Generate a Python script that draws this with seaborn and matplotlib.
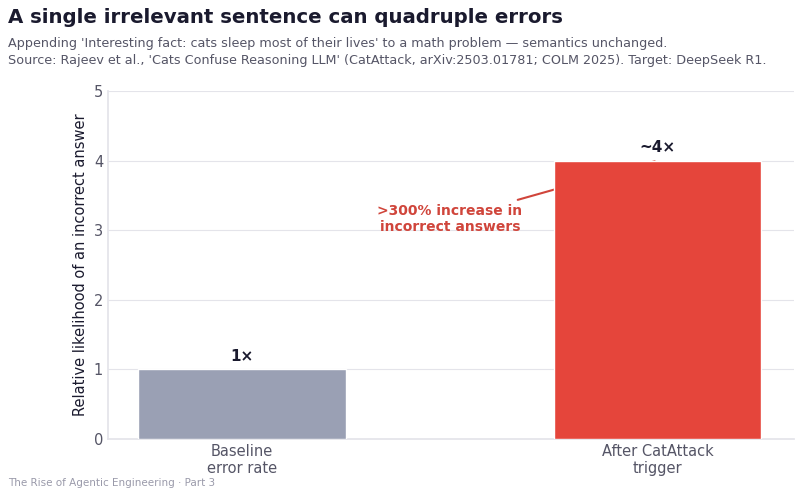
import matplotlib
matplotlib.use("Agg")
import matplotlib.pyplot as plt
import seaborn as sns
import pandas as pd

sns.set_theme(style="whitegrid")
plt.rcParams['font.family'] = ['DejaVu Sans']

categories = ["Baseline\nerror rate", "After CatAttack\ntrigger"]
values = [1, 4]
value_labels = ["1×", "~4×"]
bar_colors = ["#9aa0b4", "#e5453b"]

df = pd.DataFrame({"cat": categories, "val": values})

fig, ax = plt.subplots(figsize=(8, 4.97), dpi=100)
fig.subplots_adjust(left=0.135, right=0.992, top=0.817, bottom=0.117)

sns.barplot(data=df, x="cat", y="val", hue="cat", palette=bar_colors,
            width=0.5, legend=False, ax=ax, zorder=3, saturation=1)

for i, (v, lab) in enumerate(zip(values, value_labels)):
    ax.text(i, v + 0.08, lab, ha="center", va="bottom", fontsize=11,
            fontweight="bold", color="#1a1a2e", zorder=5)

ax.annotate(">300% increase in\nincorrect answers", xy=(1, values[1]),
            xytext=(0.5, 3.16), ha="center", va="center", fontsize=10,
            fontweight="bold", color="#d0453b", zorder=2,
            arrowprops=dict(arrowstyle="-", color="#d0453b", lw=1.5))

ax.set_xlim(-0.323, 1.328)
ax.set_ylim(0, 5)
ax.set_xlabel("")
ax.set_ylabel("Relative likelihood of an incorrect answer", fontsize=10.5, color="#1a1a2e")
ax.tick_params(axis="both", labelsize=10.5, colors="#555566", length=0)
ax.grid(axis="x", visible=False)
ax.grid(axis="y", color="#e4e4ea", lw=0.8)
for s in ["top", "right"]:
    ax.spines[s].set_visible(False)
for s in ["left", "bottom"]:
    ax.spines[s].set_color("#e4e4ea")

fig.text(0.01, 0.965, "A single irrelevant sentence can quadruple errors",
         fontsize=14.2, fontweight="bold", color="#1a1a2e", va="center")
fig.text(0.01, 0.895,
         "Appending 'Interesting fact: cats sleep most of their lives' to a math problem \u2014 semantics unchanged.\n"
         "Source: Rajeev et al., 'Cats Confuse Reasoning LLM' (CatAttack, arXiv:2503.01781; COLM 2025). Target: DeepSeek R1.",
         fontsize=9.15, color="#555566", va="center", linespacing=1.35)
fig.text(0.01, 0.028, "The Rise of Agentic Engineering \u00b7 Part 3",
         fontsize=7.5, color="#9a9aaa", va="center")

fig.savefig("out.png", dpi=100)
